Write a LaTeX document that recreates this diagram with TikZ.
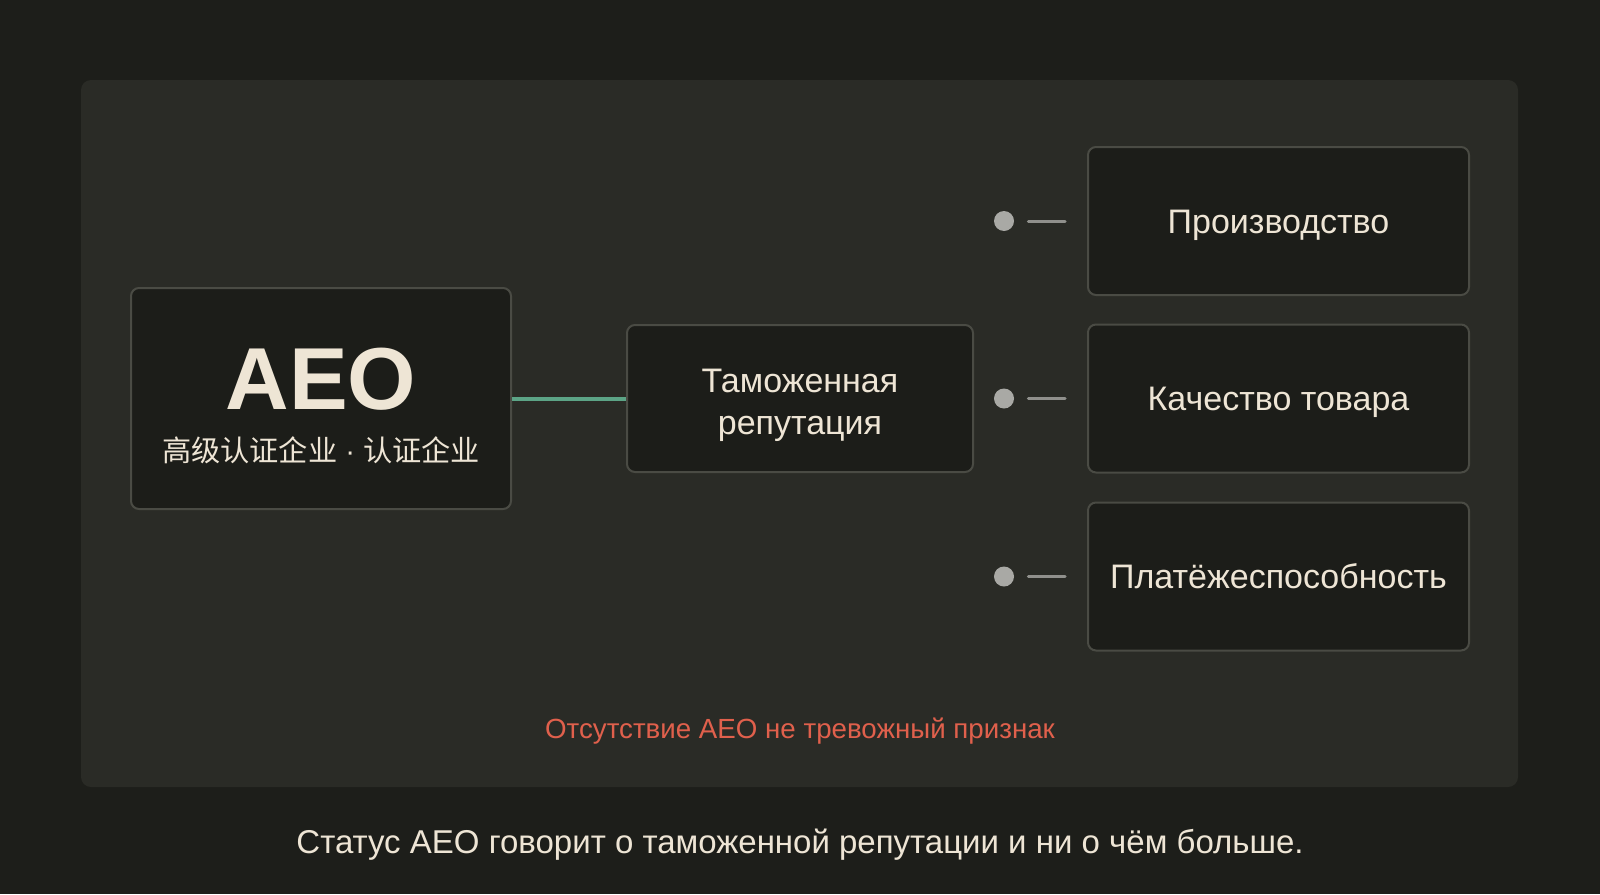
\documentclass[tikz,border=0pt]{standalone}
\usepackage{fontspec}
\setmainfont{Liberation Sans}
\newfontfamily\cjk{Noto Sans CJK SC}
\usetikzlibrary{positioning}
\definecolor{bgdark}{HTML}{1D1E1A}
\definecolor{panelgray}{HTML}{2A2B26}
\definecolor{boxfill}{HTML}{1C1D19}
\definecolor{boxline}{HTML}{4A4B44}
\definecolor{cream}{HTML}{EEE5D5}
\definecolor{teal}{HTML}{5CA486}
\definecolor{alertred}{HTML}{E0604C}
\definecolor{dotgray}{HTML}{A9A9A5}
\tikzset{
  card/.style={draw=boxline, line width=1pt, fill=boxfill, rounded corners=4pt, inner sep=0pt, text=cream},
  facet/.style={card, minimum width=190.5pt, minimum height=74pt, text height=12pt, text depth=0pt, font=\fontsize{17}{21}\selectfont},
  bullet/.style={circle, fill=dotgray, minimum size=10pt, inner sep=0pt},
  tick/.style={draw=dotgray!85!black, line width=1.5pt, shorten <=7pt, shorten >=11pt}
}
\begin{document}
\begin{tikzpicture}[x=0.5pt, y=-0.5pt, line join=round, line cap=round]
        \def\fx{1278.5} \def\dx{1004}
\useasboundingbox (0,0) rectangle (1600,894);
\fill[bgdark] (0,0) rectangle (1600,894);
\fill[panelgray, rounded corners=5pt] (81,80) rectangle (1518,787);
% left: the status itself
\node[card, minimum width=190pt, minimum height=110.5pt] (aeo) at (321,398.5) {};
\node[anchor=base, text=cream, font=\fontsize{44}{50}\selectfont\bfseries] (aeotitle) at (321,409) {AEO};
\node[anchor=base, text=cream, font=\fontsize{14.6}{16}\selectfont] (aeosub) at (321,461) {{\cjk 高级认证企业} · {\cjk 认证企业}};
% middle
\node[card, minimum width=173pt, minimum height=73.5pt, align=center, text height=35.5pt, text depth=0pt, font=\fontsize{17}{21}\selectfont] (rep) at (800,398.5) {Таможенная\\репутация};
        \draw[teal, line width=2pt, line cap=butt] (aeo.east) -- (rep.west);
% right column
\node[facet] (f1) at (\fx,221) {Производство};
\node[facet] (f2) at (\fx,398.5) {Качество товара};
\node[facet] (f3) at (\fx,576.5) {Платёжеспособность};
\node[bullet] (d1) at (\dx,221) {};
\node[bullet] (d2) at (\dx,398.5) {};
\node[bullet] (d3) at (\dx,576.5) {};
        \draw[tick] (d1.east) -- (f1.west);
        \draw[tick] (d2.east) -- (f2.west);
        \draw[tick] (d3.east) -- (f3.west);
% captions
\node[anchor=base, text=alertred, font=\fontsize{13.85}{16}\selectfont] (warn) at (800,738) {Отсутствие AEO не тревожный признак};
\node[anchor=base, text=cream, font=\fontsize{16.5}{20}\selectfont] (note) at (800,853) {Статус AEO говорит о таможенной репутации и ни о чём больше.};
    \end{tikzpicture}
\end{document}
